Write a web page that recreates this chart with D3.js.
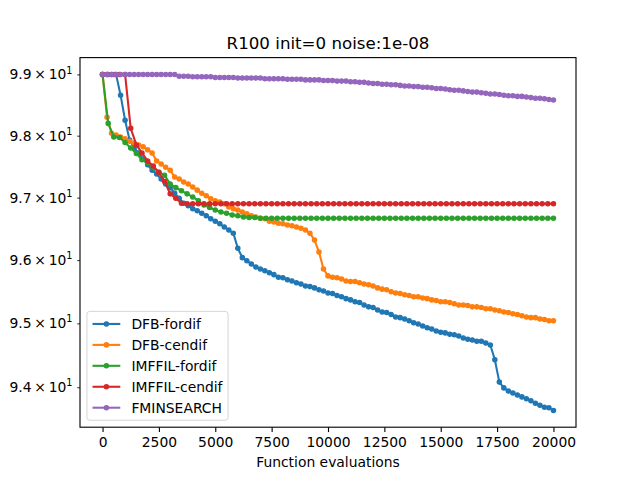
<!DOCTYPE html>
<html>
<head>
<meta charset="utf-8">
<script src="https://cdn.jsdelivr.net/npm/d3@7"></script>
<style>
  body { margin: 0; background: #ffffff; }
  svg { display: block; font-family: "DejaVu Sans", sans-serif; }
</style>
</head>
<body>
<div id="chart"></div>
<script>

// Données (valeur de la fonction objectif)

const titleText = "R100 init=0 noise:1e-08";
const xLabelText = "Function evaluations";

// grilles des évaluations
const evalsStep200 = d3.range(0, 20001, 200);
const evalsStep250 = d3.range(0, 20001, 250);

const xTicks = [0, 2500, 5000, 7500, 10000, 12500, 15000, 17500, 20000];
const yTicks = [94, 95, 96, 97, 98, 99];

const dfbFordif = [
    99.00, 99.00, 99.00, 99.00, 98.66, 98.25, 97.93, 97.80, 97.72, 97.62,
    97.53, 97.44, 97.38, 97.30, 97.22, 97.16, 97.07, 96.99, 96.91, 96.87,
    96.82, 96.79, 96.75, 96.71, 96.66, 96.62, 96.58, 96.53, 96.48, 96.43,
    96.19, 96.04, 95.99, 95.94, 95.89, 95.86, 95.83, 95.80, 95.77, 95.73,
    95.72, 95.69, 95.67, 95.64, 95.62, 95.59, 95.58, 95.56, 95.53, 95.51,
    95.48, 95.47, 95.44, 95.42, 95.39, 95.37, 95.34, 95.33, 95.29, 95.26,
    95.25, 95.21, 95.18, 95.17, 95.14, 95.10, 95.09, 95.07, 95.04, 95.01,
    94.99, 94.96, 94.93, 94.91, 94.88, 94.86, 94.85, 94.83, 94.82, 94.80,
    94.77, 94.75, 94.74, 94.72, 94.72, 94.69, 94.66, 94.43, 94.08, 93.99,
    93.94, 93.91, 93.88, 93.85, 93.82, 93.79, 93.75, 93.72, 93.69, 93.68,
    93.64
];

const dfbCendif = [
    99.00, 98.30, 98.04, 98.01, 97.98, 97.95, 97.91, 97.88, 97.85, 97.82,
    97.77, 97.72, 97.59, 97.54, 97.49, 97.44, 97.33, 97.30, 97.25, 97.22,
    97.17, 97.12, 97.07, 97.03, 96.98, 96.95, 96.93, 96.90, 96.85, 96.82,
    96.80, 96.77, 96.74, 96.71, 96.69, 96.67, 96.66, 96.62, 96.61, 96.59,
    96.58, 96.56, 96.55, 96.53, 96.51, 96.48, 96.43, 96.32, 96.13, 95.86,
    95.75, 95.73, 95.72, 95.70, 95.67, 95.66, 95.66, 95.64, 95.62, 95.61,
    95.59, 95.56, 95.54, 95.53, 95.50, 95.48, 95.47, 95.45, 95.44, 95.42,
    95.42, 95.40, 95.39, 95.37, 95.36, 95.34, 95.34, 95.33, 95.31, 95.29,
    95.29, 95.28, 95.26, 95.26, 95.25, 95.23, 95.23, 95.21, 95.20, 95.18,
    95.17, 95.15, 95.14, 95.12, 95.10, 95.09, 95.09, 95.07, 95.06, 95.04,
    95.04
];

const imffilFordif = [
    99.00, 98.20, 97.98, 97.97, 97.89, 97.80, 97.71, 97.61, 97.56, 97.48,
    97.41, 97.36, 97.22, 97.16, 97.11, 97.06, 97.01, 96.95, 96.88, 96.84,
    96.80, 96.77, 96.75, 96.72, 96.71, 96.69, 96.68, 96.68, 96.67, 96.67,
    96.67, 96.67, 96.67, 96.67, 96.67, 96.67, 96.67, 96.67, 96.67, 96.67,
    96.67, 96.67, 96.67, 96.67, 96.67, 96.67, 96.67, 96.67, 96.67, 96.67,
    96.67, 96.67, 96.67, 96.67, 96.67, 96.67, 96.67, 96.67, 96.67, 96.67,
    96.67, 96.67, 96.67, 96.67, 96.67, 96.67, 96.67, 96.67, 96.67, 96.67,
    96.67, 96.67, 96.67, 96.67, 96.67, 96.67, 96.67, 96.67, 96.67, 96.67,
    96.67
];

const imffilCendif = [
    99.00, 99.00, 99.00, 99.00, 99.00, 98.12, 97.85, 97.72, 97.59, 97.51,
    97.40, 97.26, 97.06, 96.99, 96.91, 96.90, 96.90, 96.90, 96.90, 96.90,
    96.90, 96.90, 96.90, 96.90, 96.90, 96.90, 96.90, 96.90, 96.90, 96.90,
    96.90, 96.90, 96.90, 96.90, 96.90, 96.90, 96.90, 96.90, 96.90, 96.90,
    96.90, 96.90, 96.90, 96.90, 96.90, 96.90, 96.90, 96.90, 96.90, 96.90,
    96.90, 96.90, 96.90, 96.90, 96.90, 96.90, 96.90, 96.90, 96.90, 96.90,
    96.90, 96.90, 96.90, 96.90, 96.90, 96.90, 96.90, 96.90, 96.90, 96.90,
    96.90, 96.90, 96.90, 96.90, 96.90, 96.90, 96.90, 96.90, 96.90, 96.90,
    96.90
];

const fminsearch = [
    99.00, 99.00, 99.00, 99.00, 99.00, 99.00, 99.00, 99.00, 99.00, 99.00,
    99.00, 99.00, 99.00, 99.00, 99.00, 99.00, 99.00, 98.97, 98.97, 98.97,
    98.96, 98.96, 98.96, 98.96, 98.96, 98.95, 98.95, 98.95, 98.95, 98.95,
    98.94, 98.94, 98.94, 98.94, 98.94, 98.94, 98.93, 98.93, 98.93, 98.93,
    98.93, 98.92, 98.92, 98.92, 98.92, 98.91, 98.91, 98.91, 98.91, 98.90,
    98.90, 98.90, 98.89, 98.89, 98.89, 98.88, 98.88, 98.87, 98.87, 98.86,
    98.85, 98.85, 98.84, 98.84, 98.83, 98.83, 98.82, 98.81, 98.81, 98.80,
    98.80, 98.79, 98.79, 98.78, 98.77, 98.77, 98.76, 98.75, 98.74, 98.74,
    98.73, 98.72, 98.71, 98.71, 98.70, 98.69, 98.68, 98.68, 98.67, 98.66,
    98.65, 98.65, 98.64, 98.64, 98.63, 98.62, 98.61, 98.61, 98.60, 98.59,
    98.58
];

const seriesNames = ["DFB-fordif", "DFB-cendif", "IMFFIL-fordif", "IMFFIL-cendif", "FMINSEARCH"];
const seriesColors = ["#1f77b4", "#ff7f0e", "#2ca02c", "#d62728", "#9467bd"];

//---------------------------------------------------------------------------------------

// Mise en forme des séries

const series = [
    { evals: evalsStep200, values: dfbFordif },
    { evals: evalsStep200, values: dfbCendif },
    { evals: evalsStep250, values: imffilFordif },
    { evals: evalsStep250, values: imffilCendif },
    { evals: evalsStep200, values: fminsearch }
].map((s, i) => ({
    name: seriesNames[i],
    color: seriesColors[i],
    points: s.values.map((v, j) => [s.evals[j], v])
}));

//---------------------------------------------------------------------------------------

// Canevas SVG (mêmes proportions que matplotlib)

const width = 640;
const height = 480;
const plotLeft = 80, plotRight = 576, plotTop = 57.6, plotBottom = 427.2;
const fontSize = 13.89;

const svg = d3.select("#chart")
    .append("svg")
    .attr("width", width)
    .attr("height", height);

svg.append("rect")
    .attr("width", width)
    .attr("height", height)
    .attr("fill", "#ffffff");

//---------------------------------------------------------------------------------------

// Échelles

const scaleX = d3.scaleLinear()
    .domain([-1000, 21000])
    .range([plotLeft, plotRight]);

const allValues = series.flatMap(s => s.points.map(p => p[1]));
const logMin = Math.log(d3.min(allValues));
const logMax = Math.log(d3.max(allValues));
const logPad = (logMax - logMin) * 0.05;

const scaleY = d3.scaleLog()
    .domain([Math.exp(logMin - logPad), Math.exp(logMax + logPad)])
    .range([plotBottom, plotTop]);

//---------------------------------------------------------------------------------------

// Courbes

svg.append("clipPath")
    .attr("id", "plot-clip")
    .append("rect")
    .attr("x", plotLeft)
    .attr("y", plotTop)
    .attr("width", plotRight - plotLeft)
    .attr("height", plotBottom - plotTop);

const plot = svg.append("g").attr("clip-path", "url(#plot-clip)");

const line = d3.line()
    .x(d => scaleX(d[0]))
    .y(d => scaleY(d[1]));

series.forEach(s => {
    const g = plot.append("g");

    g.append("path")
        .datum(s.points)
        .attr("d", line)
        .attr("fill", "none")
        .attr("stroke", s.color)
        .attr("stroke-width", 2.08)
        .attr("stroke-linejoin", "round");

    g.selectAll("circle")
        .data(s.points)
        .join("circle")
        .attr("cx", d => scaleX(d[0]))
        .attr("cy", d => scaleY(d[1]))
        .attr("r", 2.08)
        .attr("fill", s.color)
        .attr("stroke", s.color)
        .attr("stroke-width", 1.39);
});

//---------------------------------------------------------------------------------------

// Axes

const xAxis = svg.append("g")
    .attr("transform", `translate(0, ${plotBottom})`)
    .call(d3.axisBottom(scaleX)
        .tickValues(xTicks)
        .tickFormat(d3.format("d"))
        .tickSizeInner(4.86)
        .tickSizeOuter(0)
        .tickPadding(5));

xAxis.select(".domain").remove();
xAxis.selectAll(".tick line").attr("stroke", "#000").attr("stroke-width", 1.11);
xAxis.selectAll(".tick text")
    .attr("fill", "#000")
    .attr("font-family", "DejaVu Sans")
    .attr("font-size", fontSize);

const yAxis = svg.append("g")
    .attr("transform", `translate(${plotLeft}, 0)`)
    .call(d3.axisLeft(scaleY)
        .tickValues(yTicks)
        .tickSizeInner(2.78)
        .tickSizeOuter(0)
        .tickPadding(4.72));

yAxis.select(".domain").remove();
yAxis.selectAll(".tick line").attr("stroke", "#000").attr("stroke-width", 0.83);

// étiquettes en notation scientifique : 9.4 × 10^1
yAxis.selectAll(".tick text")
    .attr("fill", "#000")
    .attr("font-family", "DejaVu Sans")
    .attr("font-size", fontSize)
    .each(function(d) {
        const exp = Math.floor(Math.log10(d));
        const mant = d / Math.pow(10, exp);
        const t = d3.select(this).text(null);
        t.append("tspan").text(mant.toFixed(1) + "\u2009\u00d7\u200910");
        t.append("tspan")
            .attr("dy", "-0.6em")
            .attr("font-size", fontSize * 0.7)
            .text(exp);
    });

// cadre
svg.append("rect")
    .attr("x", plotLeft)
    .attr("y", plotTop)
    .attr("width", plotRight - plotLeft)
    .attr("height", plotBottom - plotTop)
    .attr("fill", "none")
    .attr("stroke", "#000")
    .attr("stroke-width", 1.11);

//---------------------------------------------------------------------------------------

// Titraille

svg.append("text")
    .attr("x", (plotLeft + plotRight) / 2)
    .attr("y", 49.3)
    .attr("text-anchor", "middle")
    .attr("font-size", 16.67)
    .attr("fill", "#000")
    .text(titleText);

svg.append("text")
    .attr("x", (plotLeft + plotRight) / 2)
    .attr("y", 467)
    .attr("text-anchor", "middle")
    .attr("font-size", fontSize)
    .attr("fill", "#000")
    .text(xLabelText);

//---------------------------------------------------------------------------------------

// Légende (en bas à gauche)

const legX = plotLeft + 6.94;
const legBottom = plotBottom - 6.94;
const rowH = 20.94;
const legH = 2 * 5.56 + seriesNames.length * 14.0 + (seriesNames.length - 1) * 6.94;
const legY = legBottom - legH;

const legend = svg.append("g");

const legendBox = legend.append("rect")
    .attr("x", legX)
    .attr("y", legY)
    .attr("height", legH)
    .attr("rx", 2.8)
    .attr("fill", "#ffffff")
    .attr("fill-opacity", 0.8)
    .attr("stroke", "#cccccc")
    .attr("stroke-opacity", 0.8)
    .attr("stroke-width", 1);

let maxTextW = 0;

series.forEach((s, i) => {
    const cy = legY + 5.56 + 7 + i * rowH;
    const x0 = legX + 5.56;
    const x1 = x0 + 27.8;

    legend.append("line")
        .attr("x1", x0).attr("x2", x1)
        .attr("y1", cy).attr("y2", cy)
        .attr("stroke", s.color)
        .attr("stroke-width", 2.08);

    legend.append("circle")
        .attr("cx", (x0 + x1) / 2)
        .attr("cy", cy)
        .attr("r", 2.08)
        .attr("fill", s.color)
        .attr("stroke", s.color)
        .attr("stroke-width", 1.39);

    const label = legend.append("text")
        .attr("x", x1 + 11.1)
        .attr("y", cy + 5)
        .attr("font-size", fontSize)
        .attr("fill", "#000")
        .text(s.name);

    maxTextW = Math.max(maxTextW, label.node().getComputedTextLength());
});

legendBox.attr("width", 5.56 + 27.8 + 11.1 + maxTextW + 5.56);

</script>
</body>
</html>
